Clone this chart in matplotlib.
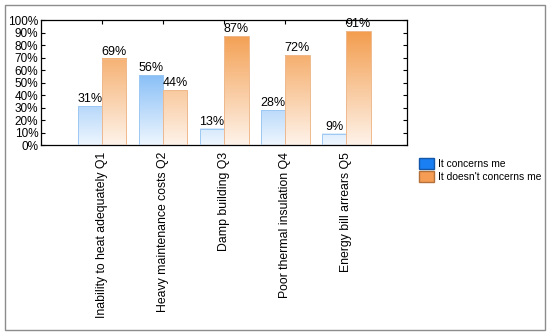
import numpy as np
from matplotlib import pyplot as plt
from matplotlib.colors import LinearSegmentedColormap
from matplotlib.patches import Patch, Rectangle

plt.rcParams["font.family"] = ["Liberation Sans", "DejaVu Sans"]

categories = ["Inability to heat adequately Q1", "Heavy maintenance costs Q2",
              "Damp building Q3", "Poor thermal insulation Q4", "Energy bill arrears Q5"]
concerns = [31, 56, 13, 28, 9]
not_concerns = [69, 44, 87, 72, 91]
series_names = ["It concerns me", "It doesn't concerns me"]

fig = plt.figure(figsize=(5.5, 3.35), dpi=100)
ax = fig.add_axes([0.0745, 0.567, 0.666, 0.373])

blue_cmap = LinearSegmentedColormap.from_list("b", ["#eef6fe", "#3b95f2"])
orange_cmap = LinearSegmentedColormap.from_list("o", ["#fef3ea", "#f2953f"])

w = 0.4
x = np.arange(len(categories))

# gradient bars
def grad_bar(xc, h, cmap, edge):
    grad = np.linspace(0, h, 200).reshape(-1, 1)
    ax.imshow(grad, extent=[xc - w / 2, xc + w / 2, 0, h], origin="lower",
              cmap=cmap, vmin=0, vmax=100, aspect="auto", zorder=2)
    ax.add_patch(Rectangle((xc - w / 2, 0), w, h, fill=False, edgecolor=edge,
                           linewidth=0.7, zorder=3))

for i in range(len(categories)):
    grad_bar(x[i] - w / 2, concerns[i], blue_cmap, "#9cc8f3")
    grad_bar(x[i] + w / 2, not_concerns[i], orange_cmap, "#efb98e")
    ax.text(x[i] - w / 2, concerns[i] + 1, "%d%%" % concerns[i], ha="center",
            va="bottom", fontsize=9)
    ax.text(x[i] + w / 2, not_concerns[i] + 1, "%d%%" % not_concerns[i], ha="center",
            va="bottom", fontsize=9)

ax.set_xlim(-1, 5)
ax.set_ylim(0, 100)
ax.set_yticks(range(0, 101, 10))
ax.set_yticklabels(["%d%%" % v for v in range(0, 101, 10)], fontsize=8.5)
ax.set_xticks(x)
ax.set_xticklabels(categories, rotation=90, fontsize=8.8, va="top", ha="center")
ax.tick_params(direction="in", top=True, right=True, length=3, width=0.8)
ax.tick_params(axis="y", pad=2)
ax.tick_params(axis="x", pad=5)
for s in ax.spines.values():
    s.set_linewidth(0.9)

handles = [Patch(facecolor="#1a7ff2", edgecolor="#1456a8"),
           Patch(facecolor="#f59d55", edgecolor="#b4703a")]
fig.legend(handles, series_names, loc="upper left", bbox_to_anchor=(0.755, 0.54),
           frameon=False, fontsize=7.4, handlelength=1.45, handleheight=1.25,
           handletextpad=0.35, labelspacing=0.2, borderaxespad=0)

fig.patches.append(Rectangle((0.009, 0.015), 0.982, 0.97, transform=fig.transFigure,
                             fill=False, edgecolor="#8c8c8c", linewidth=1.0))

plt.savefig("out.png", dpi=100)
